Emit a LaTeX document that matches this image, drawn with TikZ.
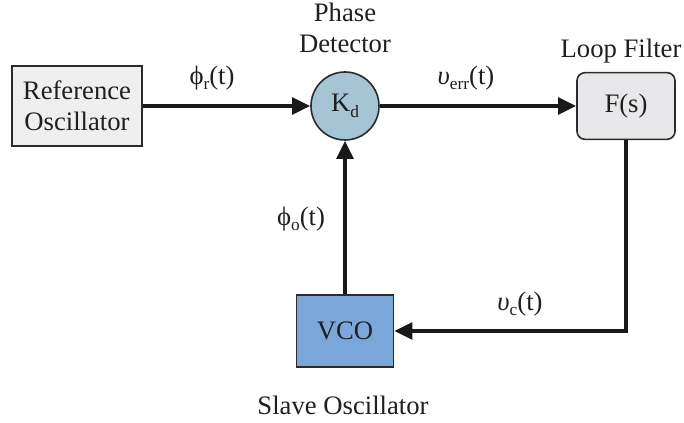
\documentclass[tikz,border=0pt]{standalone}
\usepackage{fontspec}
\setmainfont{Liberation Serif}
\usetikzlibrary{arrows.meta}
\definecolor{refgray}{HTML}{EFEFEF}
\definecolor{pdblue}{HTML}{A5C5D5}
\definecolor{lfgray}{HTML}{E8E8EA}
\definecolor{vcoblue}{HTML}{7BA6D9}
\definecolor{edge}{HTML}{2B2B2B}
\newcommand{\lowsub}[1]{\raisebox{-0.45ex}{\fontsize{13}{13}\selectfont#1}}
\begin{document}
\begin{tikzpicture}[x=0.75pt,y=-0.75pt,
  every node/.style={font=\fontsize{20}{23.5}\selectfont,text=black!88},
  blk/.style={draw=edge,line width=1.2pt,inner sep=0pt},
  sig/.style={line width=2.6pt,draw=black!90,-{Triangle[length=13.5pt,width=12.5pt]}}]
\useasboundingbox (0,0) rectangle (684,423);
\node[blk,fill=refgray,minimum width=97.5pt,minimum height=60pt,align=center] (ref) at (77,106) {Reference\\Oscillator};
\node[blk,circle,fill=pdblue,minimum size=51pt] (pd) at (345,106) {K\lowsub{d}};
\node[blk,fill=lfgray,rounded corners=6pt,minimum width=73.5pt,minimum height=50pt] (lf) at (626,106) {F(s)};
\node[blk,fill=vcoblue,minimum width=72.75pt,minimum height=54pt] (vco) at (345,331) {VCO};
\node[align=center] (pdname) at (345,28) {Phase\\Detector};
\node (lfname) at (621,51) {Loop Filter};
\node (vconame) at (343,405) {Slave Oscillator};
\draw[sig] (ref) -- (pd);
\draw[sig] (pd) -- (lf);
\draw[sig] (lf.south) |- (vco.east);
\draw[sig] (vco) -- (pd);
\node (phir) at (212,78) {ϕ\lowsub{r}(t)};
\node (verr) at (466,78) {\textit{υ}\lowsub{err}(t)};
\node (phio) at (301,219) {ϕ\lowsub{o}(t)};
\node (vc) at (520,304) {\textit{υ}\lowsub{c}(t)};
\end{tikzpicture}
\end{document}
